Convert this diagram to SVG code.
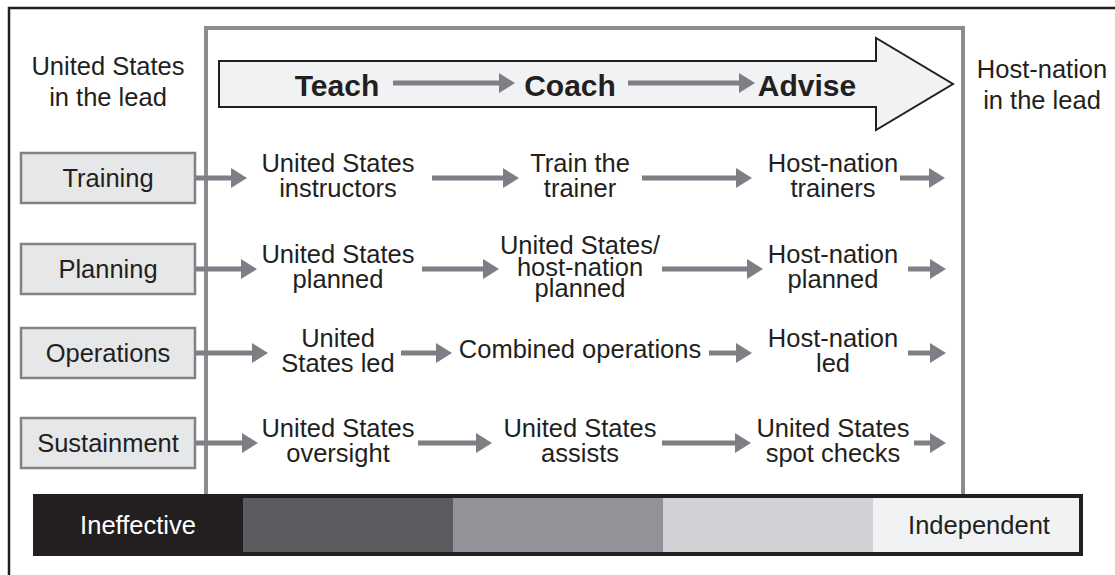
<svg xmlns="http://www.w3.org/2000/svg" width="1115" height="575" viewBox="0 0 1115 575">
<defs>
<style>
.t{font-family:"Liberation Sans",Arial,sans-serif;font-size:25.5px;fill:#231f20;text-anchor:middle}
.h{font-family:"Liberation Sans",Arial,sans-serif;font-size:30px;font-weight:bold;fill:#231f20;text-anchor:middle}
.box{fill:#e6e7e9;stroke:#808285;stroke-width:2.5}
.ar{stroke:#7d7f84;stroke-width:5;fill:none}
.frame{fill:none;stroke:#8a8c90;stroke-width:4}
</style>
<marker id="ah" viewBox="0 0 16 20" refX="0" refY="10" markerWidth="16" markerHeight="20" markerUnits="userSpaceOnUse" orient="auto">
<path d="M0,0 L16,10 L0,20 Z" fill="#7d7f84"/>
</marker>
</defs>
<rect width="1115" height="575" fill="#ffffff"/>
<rect x="9" y="8" width="1120" height="580" fill="none" stroke="#231f20" stroke-width="2.5"/>
<path class="frame" d="M206,494 V28 H963 V494"/>

<g id="header">
<path d="M219,61 H876 V38 L953,84 L876,130 V107 H219 Z" fill="#f1f2f4" stroke="#231f20" stroke-width="2"/>
<text class="h" x="337" y="96">Teach</text>
<text class="h" x="570" y="96">Coach</text>
<text class="h" x="807" y="96">Advise</text>
</g>

<g id="label-us-lead">
<text class="t" x="108" y="75">United States</text>
<text class="t" x="108" y="106">in the lead</text>
</g>
<g id="label-hn-lead">
<text class="t" x="1042" y="78">Host-nation</text>
<text class="t" x="1042" y="109">in the lead</text>
</g>

<g id="connectors">
<line class="ar" x1="393" y1="83" x2="499" y2="83" marker-end="url(#ah)"/>
<line class="ar" x1="628" y1="83" x2="739" y2="83" marker-end="url(#ah)"/>

<line class="ar" x1="195" y1="178" x2="231" y2="178" marker-end="url(#ah)"/>
<line class="ar" x1="432" y1="178" x2="503" y2="178" marker-end="url(#ah)"/>
<line class="ar" x1="642" y1="178" x2="736" y2="178" marker-end="url(#ah)"/>
<line class="ar" x1="900" y1="178" x2="929" y2="178" marker-end="url(#ah)"/>

<line class="ar" x1="195" y1="269" x2="241" y2="269" marker-end="url(#ah)"/>
<line class="ar" x1="422" y1="269" x2="483" y2="269" marker-end="url(#ah)"/>
<line class="ar" x1="662" y1="269" x2="747" y2="269" marker-end="url(#ah)"/>
<line class="ar" x1="908" y1="269" x2="930" y2="269" marker-end="url(#ah)"/>

<line class="ar" x1="195" y1="353" x2="252" y2="353" marker-end="url(#ah)"/>
<line class="ar" x1="401" y1="353" x2="436" y2="353" marker-end="url(#ah)"/>
<line class="ar" x1="709" y1="353" x2="736" y2="353" marker-end="url(#ah)"/>
<line class="ar" x1="908" y1="353" x2="930" y2="353" marker-end="url(#ah)"/>

<line class="ar" x1="195" y1="443" x2="242" y2="443" marker-end="url(#ah)"/>
<line class="ar" x1="418" y1="443" x2="476" y2="443" marker-end="url(#ah)"/>
<line class="ar" x1="662" y1="443" x2="735" y2="443" marker-end="url(#ah)"/>
<line class="ar" x1="914" y1="443" x2="930" y2="443" marker-end="url(#ah)"/>
</g>

<g id="box-training"><rect class="box" x="21" y="153" width="174" height="50"/><text class="t" x="108" y="187">Training</text></g>
<g id="box-planning"><rect class="box" x="21" y="244" width="174" height="50"/><text class="t" x="108" y="278">Planning</text></g>
<g id="box-operations"><rect class="box" x="21" y="328" width="174" height="50"/><text class="t" x="108" y="362">Operations</text></g>
<g id="box-sustainment"><rect class="box" x="21" y="418" width="174" height="50"/><text class="t" x="108" y="452">Sustainment</text></g>

<g id="n-us-instructors"><text class="t" x="338" y="172">United States</text><text class="t" x="338" y="197">instructors</text></g>
<g id="n-train-trainer"><text class="t" x="580" y="172">Train the</text><text class="t" x="580" y="197">trainer</text></g>
<g id="n-hn-trainers"><text class="t" x="833" y="172">Host-nation</text><text class="t" x="833" y="197">trainers</text></g>

<g id="n-us-planned"><text class="t" x="338" y="263">United States</text><text class="t" x="338" y="288">planned</text></g>
<g id="n-us-hn-planned"><text class="t" x="580" y="254">United States/</text><text class="t" x="580" y="276">host-nation</text><text class="t" x="580" y="297">planned</text></g>
<g id="n-hn-planned"><text class="t" x="833" y="263">Host-nation</text><text class="t" x="833" y="288">planned</text></g>

<g id="n-us-led"><text class="t" x="338" y="347">United</text><text class="t" x="338" y="372">States led</text></g>
<g id="n-combined"><text class="t" x="580" y="358">Combined operations</text></g>
<g id="n-hn-led"><text class="t" x="833" y="347">Host-nation</text><text class="t" x="833" y="372">led</text></g>

<g id="n-us-oversight"><text class="t" x="338" y="437">United States</text><text class="t" x="338" y="462">oversight</text></g>
<g id="n-us-assists"><text class="t" x="580" y="437">United States</text><text class="t" x="580" y="462">assists</text></g>
<g id="n-us-spot"><text class="t" x="833" y="437">United States</text><text class="t" x="833" y="462">spot checks</text></g>

<g id="scale-bar">
<rect x="33" y="494" width="210" height="62" fill="#231f20"/>
<rect x="243" y="494" width="210" height="62" fill="#5b5c60"/>
<rect x="453" y="494" width="210" height="62" fill="#919398"/>
<rect x="663" y="494" width="210" height="62" fill="#d1d2d5"/>
<rect x="873" y="494" width="210" height="62" fill="#f1f2f4"/>
<rect x="35" y="496" width="1046" height="58" fill="none" stroke="#231f20" stroke-width="4"/>
<text class="t" x="138" y="534" style="fill:#ffffff">Ineffective</text>
<text class="t" x="979" y="534">Independent</text>
</g>
</svg>
